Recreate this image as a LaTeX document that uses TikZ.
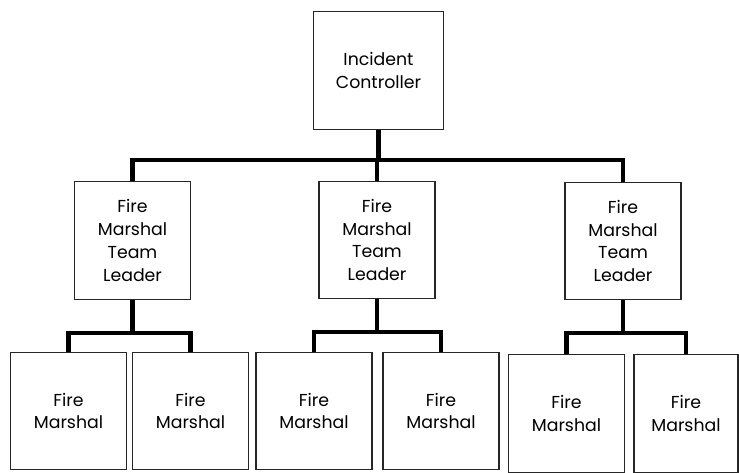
\documentclass[tikz,border=0pt]{standalone}
\usepackage{fontspec}
\setmainfont{Poppins}
\begin{document}
\begin{tikzpicture}[x=0.75pt, y=-0.75pt,
    box/.style={draw=black!85, line width=0.8pt, rectangle, align=center,
                inner sep=0pt, font=\fontsize{13}{17.2}\selectfont},
    lead/.style={box, minimum width=87pt, minimum height=88pt},
    marshal/.style={box, minimum width=87pt, minimum height=88pt},
    link/.style={line width=3.2pt}]
    \useasboundingbox (0,0) rectangle (739,472);
    \node[box, minimum width=98pt, minimum height=88pt] (ic) at (378.5,70.5) {Incident\\Controller};
    \node[lead] (tl1) at (132.5,240.5) {Fire\\Marshal\\Team\\Leader};
    \node[lead] (tl2) at (377,240)     {Fire\\Marshal\\Team\\Leader};
    \node[lead] (tl3) at (623,241)     {Fire\\Marshal\\Team\\Leader};
    \node[marshal] (fm1) at (68.5,411)  {Fire\\Marshal};
    \node[marshal] (fm2) at (190.5,411) {Fire\\Marshal};
    \node[marshal] (fm3) at (314,411)   {Fire\\Marshal};
    \node[marshal] (fm4) at (441,411)   {Fire\\Marshal};
    \node[marshal] (fm5) at (566.5,413.5) {Fire\\Marshal};
    \node[marshal, minimum width=78pt] (fm6) at (686,413.5) {Fire\\Marshal};
    \coordinate (bus) at (378.5,160);
    \draw[link] (ic.south) -- (bus);
    \draw[link] (tl1.north) |- (bus) -| (tl3.north);
    \draw[link] (tl2.north) -- (tl2.north |- bus);
    \foreach \t/\a/\b in {tl1/fm1/fm2, tl2/fm3/fm4, tl3/fm5/fm6} {
        \draw[link] (\t.south) -- ++(0,33) coordinate (sub);
        \draw[link] (\a.north) |- (sub) -| (\b.north);
    }
\end{tikzpicture}
\end{document}
